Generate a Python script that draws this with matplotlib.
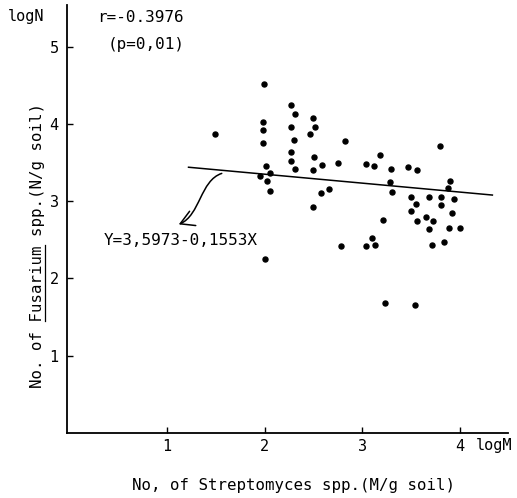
import matplotlib
matplotlib.use("Agg")
import matplotlib.pyplot as plt
from matplotlib.lines import Line2D
from matplotlib.patches import FancyArrowPatch
from matplotlib.path import Path

# ---- data ----
streptomyces_logM = [1.49, 1.99, 1.98, 1.98, 1.98, 2.01, 1.95, 2.02, 2.05, 2.05, 2.00,
                     2.27, 2.31, 2.27, 2.30, 2.27, 2.27, 2.31,
                     2.49, 2.51, 2.46, 2.50, 2.49, 2.59, 2.58, 2.66, 2.49, 2.75, 2.82, 2.78,
                     3.04, 3.12, 3.04, 3.10, 3.13, 3.18, 3.21, 3.23, 3.29, 3.28, 3.30,
                     3.47, 3.56, 3.50, 3.55, 3.50, 3.56, 3.54,
                     3.68, 3.65, 3.72, 3.68, 3.71, 3.79, 3.80, 3.80, 3.83,
                     3.90, 3.88, 3.94, 3.92, 3.89, 4.00]
fusarium_logN = [3.87, 4.52, 4.03, 3.92, 3.76, 3.45, 3.33, 3.26, 3.13, 3.36, 2.25,
                 4.25, 4.13, 3.96, 3.79, 3.64, 3.52, 3.42,
                 4.08, 3.96, 3.87, 3.57, 3.41, 3.47, 3.11, 3.16, 2.93, 3.50, 3.78, 2.42,
                 3.48, 3.45, 2.42, 2.52, 2.43, 3.60, 2.76, 1.68, 3.42, 3.25, 3.12,
                 3.44, 3.41, 3.06, 2.96, 2.87, 2.74, 1.66,
                 3.06, 2.79, 2.74, 2.64, 2.43, 3.71, 3.05, 2.95, 2.47,
                 3.26, 3.17, 3.03, 2.85, 2.65, 2.65]
fit_x = [1.22, 4.33]
fit_y = [3.44, 3.08]
arrow_start = (1.56, 3.36)
arrow_end = (1.12, 2.70)
x_ticks = [1, 2, 3, 4]
y_ticks = [1, 2, 3, 4, 5]
x_label = "No, of Streptomyces spp.(M/g soil)"
y_label = "No. of Fusarium spp.(N/g soil)"
y_underlined = "Fusarium"
eq_text = "Y=3,5973-0,1553X"
r_text = "r=-0.3976"
p_text = "(p=0,01)"

W, H = 517, 498
MONO = "DejaVu Sans Mono"
plt.rcParams["font.family"] = MONO

fig = plt.figure(figsize=(W / 100, H / 100), dpi=100)
ax = fig.add_axes([67 / W, 1 - 433 / H, (508 - 67) / W, (433 - 5) / H])
ax.set_xlim(-0.024, 4.49)
ax.set_ylim(0, 5.54)

for s in ("top", "right"):
    ax.spines[s].set_visible(False)
for s in ("left", "bottom"):
    ax.spines[s].set_linewidth(1.3)

ax.set_xticks(x_ticks)
ax.set_yticks(y_ticks)
ax.set_xticklabels([str(t) for t in x_ticks])
ax.set_yticklabels([str(t) for t in y_ticks])
ax.tick_params(direction="in", length=4, width=1.0, labelsize=11)
ax.tick_params(axis="x", pad=4)
ax.tick_params(axis="y", pad=6)

ax.plot(streptomyces_logM, fusarium_logN, linestyle="none", marker="o",
        ms=3.6, color="black")
ax.plot(fit_x, fit_y, color="black", lw=1.1)

p0 = arrow_start
p3 = arrow_end
p1 = (p0[0] - 0.22, p0[1] - 0.09)
p2 = (p0[0] - 0.22, p3[1] + 0.12)
path = Path([p0, p1, p2, p3], [Path.MOVETO, Path.CURVE4, Path.CURVE4, Path.CURVE4])
arr = FancyArrowPatch(path=path, arrowstyle="->,head_length=0.7,head_width=0.4",
                      mutation_scale=14, lw=1.1, color="black")
ax.add_patch(arr)

ax.text(1.93, 2.49, eq_text, ha="right", va="center", fontsize=11.5)

fig.text(8 / W, 1 - 17 / H, "logN", ha="left", va="center", fontsize=11)
fig.text(476 / W, 1 - 445 / H, "logM", ha="left", va="center", fontsize=11)
fig.text(97 / W, 1 - 18 / H, r_text, ha="left", va="center", fontsize=11.5)
fig.text(108 / W, 1 - 45 / H, p_text, ha="left", va="center", fontsize=11.5)

fig.text(293 / W, 1 - 485 / H, x_label, ha="center", va="center", fontsize=11.3)
ylab = fig.text(38 / W, 1 - 245 / H, y_label, rotation=90, ha="center",
                va="center", fontsize=11.3)

fig.canvas.draw()
bb = ylab.get_window_extent()
n = len(y_label)
i0 = y_label.index(y_underlined)
i1 = i0 + len(y_underlined)
ya = bb.y0 + bb.height * i0 / n
yb = bb.y0 + bb.height * i1 / n
xu = bb.x1 - 1.0
fig.add_artist(Line2D([xu / W, xu / W], [ya / H, yb / H], color="black", lw=0.9,
                      transform=fig.transFigure))

fig.savefig("out.png", dpi=100)
